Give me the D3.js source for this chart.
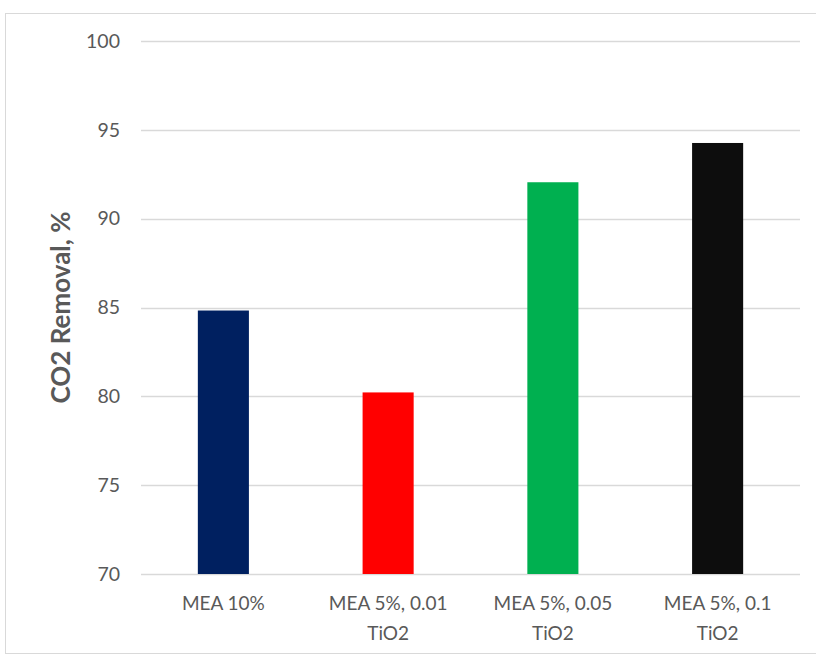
<!DOCTYPE html>
<html><head><meta charset="utf-8">
<script src="https://cdn.jsdelivr.net/npm/d3@7"></script>
<style>body{margin:0;background:#fff}svg{display:block}</style>
</head><body>
<svg id="c" width="816" height="657"></svg>
<script>
const categories = [["MEA 10%"], ["MEA 5%, 0.01", "TiO2"], ["MEA 5%, 0.05", "TiO2"], ["MEA 5%, 0.1", "TiO2"]];
const values = [84.83, 80.22, 92.05, 94.26];
const colors = ["#002060", "#ff0000", "#00b050", "#0d0d0d"];
const yTicks = [70, 75, 80, 85, 90, 95, 100];
const yTitle = "CO2 Removal, %";

(function () {
const svg = d3.select("#c");
const font = "Lato, 'Open Sans', sans-serif";
svg.append("rect").attr("x", 5.5).attr("y", 13.5).attr("width", 820).attr("height", 640)
  .attr("fill", "#fff").attr("stroke", "#d9d9d9").attr("stroke-width", 1);

const mLeft = 141, mRight = 800, mTop = 41, mBottom = 574;
const x = d3.scaleBand().domain(d3.range(categories.length)).range([mLeft, mRight]).paddingInner(0.69).paddingOuter(0.345);
const y = d3.scaleLinear().domain([70, 100]).range([mBottom, mTop]);

const grid = svg.append("g");
grid.selectAll("line").data(yTicks).join("line")
  .attr("x1", mLeft).attr("x2", mRight)
  .attr("y1", d => Math.round(y(d)) + 0.5).attr("y2", d => Math.round(y(d)) + 0.5)
  .attr("stroke", "#d9d9d9").attr("stroke-width", 1.3);

const yAxis = svg.append("g").attr("transform", `translate(${mLeft},0)`)
  .call(d3.axisLeft(y).tickValues(yTicks).tickSize(0).tickPadding(21));
yAxis.select(".domain").remove();
yAxis.selectAll("text").attr("font-family", font).attr("font-size", 19.5).attr("fill", "#595959");

svg.append("g").selectAll("rect").data(values).join("rect")
  .attr("x", (d, i) => x(i)).attr("width", x.bandwidth())
  .attr("y", d => y(d)).attr("height", d => y(70) - y(d))
  .attr("fill", (d, i) => colors[i]);

const xl = svg.append("g");
categories.forEach((lines, i) => {
  const cx = x(i) + x.bandwidth() / 2;
  const t = xl.append("text").attr("x", cx).attr("y", 610)
    .attr("text-anchor", "middle").attr("font-family", font).attr("font-size", 19).attr("fill", "#595959");
  lines.forEach((l, j) => t.append("tspan").attr("x", cx).attr("dy", j ? 30 : 0).text(l));
});

svg.append("text").attr("transform", `translate(70,${(mTop + mBottom) / 2}) rotate(-90)`)
  .attr("text-anchor", "middle").attr("font-family", font).attr("font-weight", "bold")
  .attr("font-size", 26).attr("fill", "#595959").text(yTitle);
})();
</script>
</body></html>
